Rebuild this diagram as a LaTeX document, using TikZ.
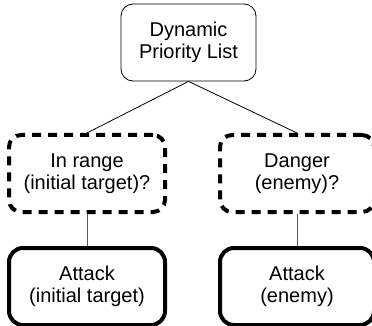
\documentclass[tikz,border=0pt]{standalone}
\usepackage{fontspec}
\setmainfont{Liberation Sans}
\definecolor{linegray}{rgb}{0.35,0.35,0.35}

\tikzset{
	box/.style={draw, rounded corners=12pt, align=center, font=\fontsize{20}{21.5}\selectfont, inner sep=0pt},
	rootbox/.style={box, line width=0.8pt, minimum width=135pt, minimum height=77pt},
	condbox/.style={box, line width=4pt, dash pattern=on 9pt off 7pt, minimum width=156pt, minimum height=77pt},
	actbox/.style={box, line width=4pt, rounded corners=14pt, minimum width=156pt, minimum height=77pt},
}

\begin{document}
\begin{tikzpicture}[x=1pt, y=-1pt]
		\useasboundingbox (0, 0) rectangle (372, 326);
		\clip (0, 0) rectangle (372, 326);
		
		\node[rootbox] (dpl) at (188.5, 42.5) {Dynamic\\Priority List};
		\node[condbox] (inrange) at (87, 173.5) {In range\\(initial target)?};
		\node[condbox, minimum width=154pt] (danger) at (297, 173.5) {Danger\\(enemy)?};
		\node[actbox] (attackinit) at (87, 286.5) {Attack\\(initial target)};
		\node[actbox, minimum width=154pt] (attackenemy) at (297, 286.5) {Attack\\(enemy)};
		
		\draw[line width=0.8pt] (dpl.south) -- (inrange.north);
		\draw[line width=0.8pt] (dpl.south) -- (danger.north);
		\draw[linegray, line width=0.8pt] (inrange.south) -- (attackinit.north);
		\draw[linegray, line width=0.8pt] (danger.south) -- (attackenemy.north);
	\end{tikzpicture}
\end{document}
